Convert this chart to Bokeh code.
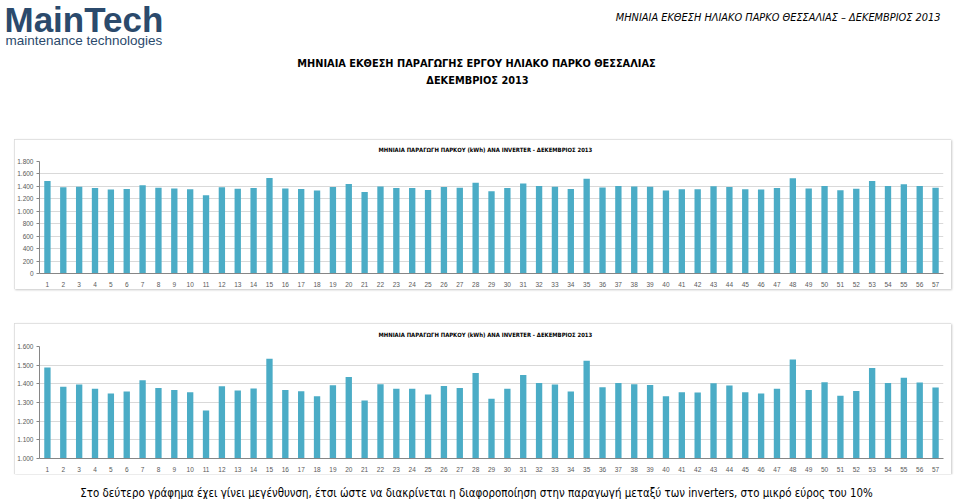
from bokeh.plotting import figure
from bokeh.layouts import column, row
from bokeh.models import Range1d, FactorRange, FixedTicker, Spacer, Label
from bokeh.embed import file_html
from bokeh.resources import INLINE

# ---------------- data ----------------
inverters = [str(i) for i in range(1, 58)]
production_kwh = [1488, 1385, 1396, 1373, 1348, 1359, 1419, 1378, 1367, 1355,
                  1257, 1387, 1364, 1375, 1534, 1367, 1360, 1334, 1392, 1437,
                  1311, 1398, 1373, 1373, 1343, 1389, 1378, 1458, 1320, 1373,
                  1447, 1405, 1396, 1359, 1524, 1382, 1405, 1398, 1394, 1334,
                  1355, 1353, 1403, 1391, 1355, 1348, 1373, 1531, 1367, 1408,
                  1336, 1362, 1485, 1405, 1433, 1407, 1380]
chart1_ticks = [0, 200, 400, 600, 800, 1000, 1200, 1400, 1600, 1800]
chart2_ticks = [1000, 1100, 1200, 1300, 1400, 1500, 1600]
chart_title = "ΜΗΝΙΑΙΑ ΠΑΡΑΓΩΓΗ ΠΑΡΚΟΥ (kWh) ΑΝΑ INVERTER  - ΔΕΚΕΜΒΡΙΟΣ 2013"
page_header = "ΜΗΝΙΑΙΑ ΕΚΘΕΣΗ ΗΛΙΑΚΟ ΠΑΡΚΟ ΘΕΣΣΑΛΙΑΣ – ΔΕΚΕΜΒΡΙΟΣ 2013"
title_line1 = "ΜΗΝΙΑΙΑ ΕΚΘΕΣΗ ΠΑΡΑΓΩΓΗΣ ΕΡΓΟΥ ΗΛΙΑΚΟ ΠΑΡΚΟ ΘΕΣΣΑΛΙΑΣ"
title_line2 = "ΔΕΚΕΜΒΡΙΟΣ 2013"
caption = ("Στο δεύτερο γράφημα έχει γίνει μεγένθυνση, έτσι ώστε να διακρίνεται η "
           "διαφοροποίηση στην παραγωγή μεταξύ των inverters, στο μικρό εύρος του 10%")

NARROW = "'Liberation Sans Narrow', 'DejaVu Sans Condensed', 'Liberation Sans', sans-serif"
SANS = "'Liberation Sans', Arial, sans-serif"
BAR = "#4bacc6"
W = 959


def blank(height, y_top, y_bottom):
    p = figure(width=W, height=height, x_range=Range1d(0, W),
               y_range=Range1d(y_bottom, y_top), x_axis_type=None, y_axis_type=None,
               output_backend="svg", toolbar_location=None, min_border=0)
    p.outline_line_color = None
    p.background_fill_color = "white"
    p.border_fill_color = "white"
    return p


# ---------------- header ----------------
header = blank(139, 0, 139)
header.add_layout(Label(x=4, y=19, text="MainTech", text_font=SANS, text_font_size="35px",
                        text_font_style="bold", text_color="#2b4a6c",
                        text_baseline="middle"))
header.add_layout(Label(x=5, y=40, text="maintenance technologies", text_font=SANS,
                        text_font_size="13.5px", text_color="#2b4a6c",
                        text_baseline="middle"))
header.add_layout(Label(x=940, y=17, text=page_header, text_font=NARROW,
                        text_font_size="10.9px", text_font_style="italic",
                        text_color="#000000", text_align="right", text_baseline="middle"))
header.add_layout(Label(x=476, y=63, text=title_line1, text_font=NARROW,
                        text_font_size="10.9px", text_font_style="bold",
                        text_color="#000000", text_align="center", text_baseline="middle"))
header.add_layout(Label(x=477, y=80, text=title_line2, text_font=NARROW,
                        text_font_size="10.9px", text_font_style="bold",
                        text_color="#000000", text_align="center", text_baseline="middle"))


def make_chart(y0, y1, ticks, height, top_border):
    p = figure(x_range=FactorRange(*inverters), y_range=Range1d(y0, y1),
               width=937, height=height, output_backend="svg", toolbar_location=None,
               min_border_left=23, min_border_right=8, min_border_top=top_border,
               min_border_bottom=16)
    p.vbar(x=inverters, top=production_kwh, bottom=0, width=0.4,
           fill_color=BAR, line_color=None)
    p.title.text = chart_title
    p.title.align = "left"
    p.title.vertical_align = "top"
    p.title.offset = 339
    p.title.text_font = NARROW
    p.title.text_font_size = "5.9px"
    p.title.text_font_style = "bold"
    p.title.text_color = "#000000"
    p.title.standoff = 14
    p.outline_line_color = None
    p.xgrid.grid_line_color = None
    p.ygrid.grid_line_color = "#d9d9d9"
    p.ygrid.ticker = FixedTicker(ticks=ticks)
    p.yaxis.ticker = FixedTicker(ticks=ticks)
    p.yaxis.major_label_overrides = {t: f"{t:,}".replace(",", ".") for t in ticks}
    for ax in (p.xaxis[0], p.yaxis[0]):
        ax.axis_line_color = "#868686"
        ax.major_tick_line_color = "#868686"
        ax.minor_tick_line_color = None
        ax.major_label_text_font = SANS
        ax.major_label_text_font_size = "6.5px"
        ax.major_label_text_color = "#595959"
    p.yaxis.major_tick_in = 0
    p.yaxis.major_tick_out = 3
    p.yaxis.major_label_standoff = 3
    p.xaxis.major_tick_line_color = None
    p.xaxis.major_label_standoff = 2
    p.styles = {"outline": "1px solid #d9d9d9", "outline-offset": "-1px",
                "box-shadow": "1px 1px 2px #c8c8c8"}
    return p


chart1 = make_chart(0, 1800, chart1_ticks, 150, 22)
chart2 = make_chart(1000, 1600, chart2_ticks, 151, 23)

cap = blank(25, 474, 499)
cap.add_layout(Label(x=476, y=492, text=caption, text_font=NARROW, text_font_size="11.4px",
                     text_color="#000000", text_align="center", text_baseline="middle"))

layout = column(header,
                row(Spacer(width=14), chart1, spacing=0),
                Spacer(height=34),
                row(Spacer(width=14), chart2, spacing=0),
                cap, spacing=0)

open("out.html", "w").write(file_html(layout, INLINE))
